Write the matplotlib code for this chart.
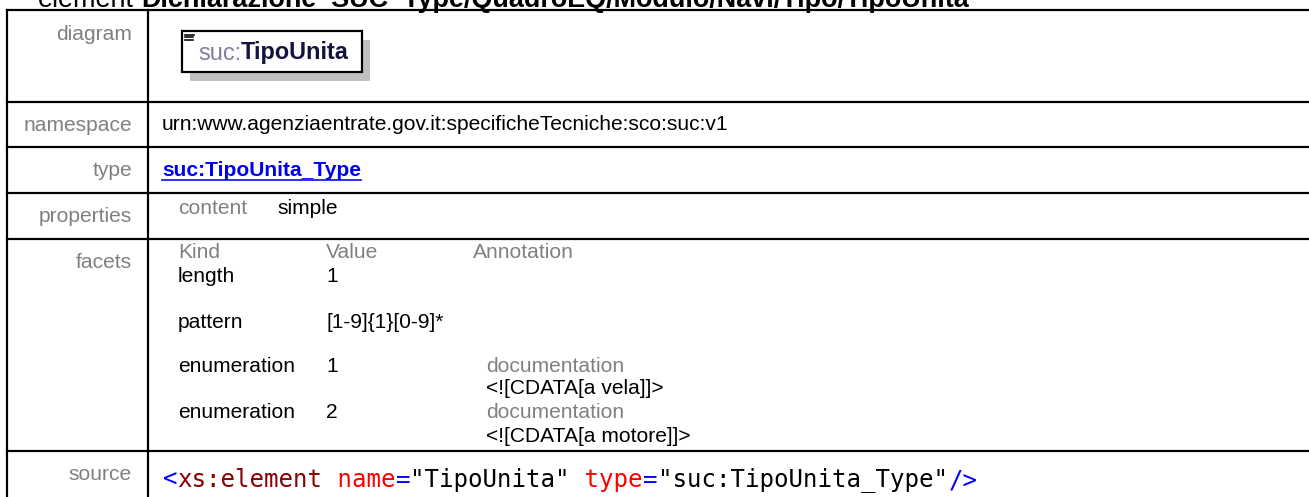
import matplotlib
matplotlib.use("Agg")
import matplotlib.pyplot as plt
from matplotlib.patches import Rectangle

# ---------------- data ----------------
title_prefix = "element"
title_path = "Dichiarazione_SUC_Type/QuadroEQ/Modulo/Navi/Tipo/TipoUnita"
row_labels = ["diagram", "namespace", "type", "properties", "facets", "source"]
diagram_prefix = "suc:"
diagram_name = "TipoUnita"
namespace_value = "urn:www.agenziaentrate.gov.it:specificheTecniche:sco:suc:v1"
type_value = "suc:TipoUnita_Type"
property_names = ["content"]
property_values = ["simple"]
facet_headers = ["Kind", "Value", "Annotation"]
facet_kinds = ["length", "pattern", "enumeration", "enumeration"]
facet_values = ["1", "[1-9]{1}[0-9]*", "1", "2"]
facet_doc_heads = ["", "", "documentation", "documentation"]
facet_docs = ["", "", "<![CDATA[a vela]]>", "<![CDATA[a motore]]>"]
source_tokens = ["<", "xs:element", " name", "=", '"TipoUnita"', " type", "=",
                 '"suc:TipoUnita_Type"', "/>"]
source_kinds = ["punct", "elem", "attr", "punct", "value", "attr", "punct", "value", "punct"]

# ---------------- style ----------------
W, H = 1309, 497
DPI = 100
def PX(px):
    return px * 72.0 / DPI

SANS = ["Liberation Sans", "DejaVu Sans"]
MONO = ["DejaVu Sans Mono"]
GREY = "#808080"
kind_colors = {"punct": "#0000FF", "elem": "#8B0000", "attr": "#FF0000", "value": "#000000"}
LW = PX(2.2)

fig = plt.figure(figsize=(W / DPI, H / DPI), dpi=DPI)
ax = fig.add_axes([0, 0, 1, 1])
ax.set_xlim(0, W)
ax.set_ylim(H, 0)
ax.axis("off")
fig.canvas.draw()
R = fig.canvas.get_renderer()

def tw(t):
    return t.get_window_extent(renderer=R).width

# ---------------- title ----------------
t0 = ax.text(38, 7, title_prefix, family=SANS, fontsize=PX(24), va="baseline", ha="left")
tb = ax.text(0, 7, title_path, family=SANS, fontsize=PX(24), fontweight="bold",
             va="baseline", ha="left")
fs = PX(24) * 829.0 / tw(tb)
t0.set_fontsize(fs)
tb.set_fontsize(fs)
tmp1 = ax.text(0, 0, "a a", family=SANS, fontsize=fs)
tmp2 = ax.text(0, 0, "aa", family=SANS, fontsize=fs)
sp = tw(tmp1) - tw(tmp2)
tmp1.remove(); tmp2.remove()
tb.set_x(38 + tw(t0) + sp)

# ---------------- grid ----------------
row_lines = [10, 101.7, 146.7, 192.7, 239, 451]
x_left, x_div = 7, 147.5
for y in row_lines:
    ax.plot([x_left, W + 5], [y, y], color="black", lw=LW, solid_capstyle="projecting")
ax.plot([x_left, x_left], [row_lines[0], H + 5], color="black", lw=LW)
ax.plot([x_div, x_div], [row_lines[0], H + 5], color="black", lw=LW)

# row labels
for lab, top in zip(row_labels, row_lines):
    ax.text(132, top + 24, lab, family=SANS, fontsize=PX(21), color=GREY,
            ha="right", va="center")

# ---------------- diagram box ----------------
bx0, by0, bx1, by1 = 181.7, 30.7, 362, 72.3
ax.add_patch(Rectangle((bx0 + 8, by0 + 9), bx1 - bx0, by1 - by0, facecolor="#C0C0C0",
                       edgecolor="none", zorder=2))
ax.add_patch(Rectangle((bx0, by0), bx1 - bx0, by1 - by0, facecolor="white",
                       edgecolor="black", lw=LW, zorder=3))
for i, yy in enumerate([34.5, 37.3, 40.1]):
    ax.plot([185, 193 if i else 194], [yy, yy], color="black", lw=PX(1.6), zorder=4)
d1 = ax.text(198, 53, diagram_prefix, family=SANS, fontsize=PX(23.5), color="#7F7F9F",
             va="center", ha="left", zorder=4)
ax.text(198 + tw(d1), 53, diagram_name, family=SANS, fontsize=PX(23.5), fontweight="bold",
        color="#14143C", va="center", ha="left", zorder=4)

# ---------------- namespace / type ----------------
ax.text(162, 125, namespace_value, family=SANS, fontsize=PX(21), color="black",
        va="center", ha="left")
tt = ax.text(162, 170, type_value, family=SANS, fontsize=PX(21), fontweight="bold",
             color="#0000EE", va="center", ha="left")
ax.plot([162, 162 + tw(tt)], [179.5, 179.5], color="#0000EE", lw=PX(1.6))

# ---------------- properties ----------------
for i, (n, v) in enumerate(zip(property_names, property_values)):
    y = 208 + 23 * i
    ax.text(178, y, n, family=SANS, fontsize=PX(21), color=GREY, va="center")
    ax.text(277, y, v, family=SANS, fontsize=PX(21), color="black", va="center")

# ---------------- facets ----------------
col_x = [178, 326, 473]
for hx, h in zip(col_x, facet_headers):
    ax.text(hx, 253, h, family=SANS, fontsize=PX(21), color=GREY, va="center")
row_y = [277, 322, 366, 413]
for y, k, v, dh, d in zip(row_y, facet_kinds, facet_values, facet_doc_heads, facet_docs):
    ax.text(col_x[0], y, k, family=SANS, fontsize=PX(21), color="black", va="center")
    ax.text(col_x[1], y, v, family=SANS, fontsize=PX(21), color="black", va="center")
    if dh:
        ax.text(486, y, dh, family=SANS, fontsize=PX(21), color=GREY, va="center")
        ax.text(486, y + 23, d, family=SANS, fontsize=PX(21), color="black", va="center")

# ---------------- source ----------------
mono_fs = PX(24)
probe = ax.text(0, 0, "M" * 40, family=MONO, fontsize=mono_fs)
cw = tw(probe) / 40.0
probe.remove()
mono_fs = mono_fs * 14.55 / cw
cw = 14.55
x = 163
for tok, kind in zip(source_tokens, source_kinds):
    ax.text(x, 480, tok, family=MONO, fontsize=mono_fs, color=kind_colors[kind],
            va="center", ha="left")
    x += cw * len(tok)

fig.savefig("out.png", dpi=DPI)
